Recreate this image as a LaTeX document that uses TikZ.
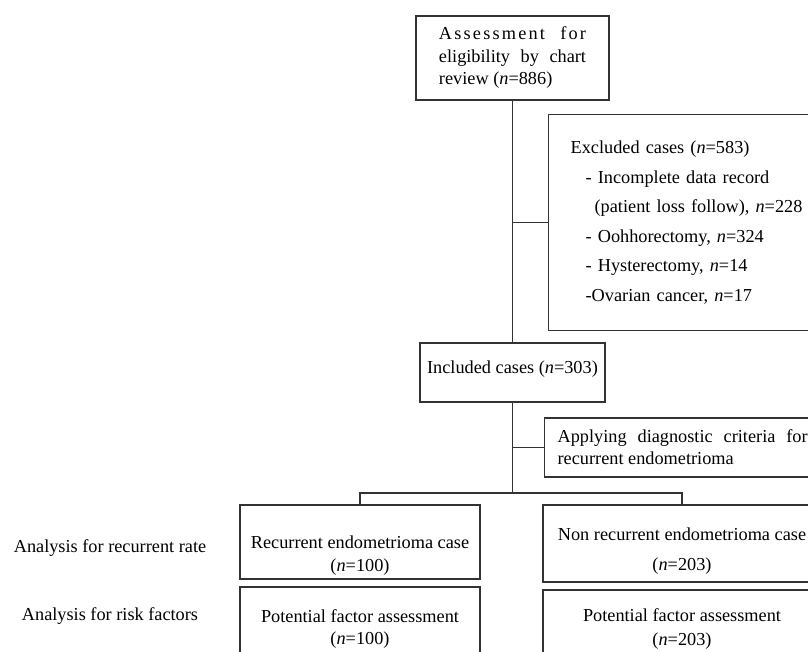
\documentclass[tikz,border=0pt]{standalone}
\usepackage{fontspec}
\setmainfont{Liberation Serif}
\newfontfamily\spacedfont[LetterSpace=12]{Liberation Serif}
\usetikzlibrary{calc}

\begin{document}
\begin{tikzpicture}[x=0.025cm,y=-0.025cm,font=\fontsize{13}{16}\selectfont,
    box/.style={draw=black!80,line width=0.9pt,rectangle,inner sep=0pt},
    link/.style={draw=black!80,line width=0.9pt}]
  \clip (0,0) rectangle (808,651);
  \node[box,minimum width=4.825cm,minimum height=2.1cm,text width=3.675cm,
    align=justify] (assess) at (512.5,58)
    {{\spacedfont Assessment for} eligibility by chart review (\textit{n}=886)};
  \node[box,anchor=north west,minimum width=7.05cm,minimum height=5.4cm,
    inner xsep=0.55cm,text width=5.95cm,align=left,
    font=\fontsize{13}{21}\selectfont] (excl) at (548,114)
    {Excluded cases (\textit{n}=583)\\
     \hspace*{0.375cm}- Incomplete data record\\
     \hspace*{0.6cm}(patient loss follow), \textit{n}=228\\
     \hspace*{0.375cm}- Oohhorectomy, \textit{n}=324\\
     \hspace*{0.375cm}- Hysterectomy, \textit{n}=14\\
     \hspace*{0.375cm}-Ovarian cancer, \textit{n}=17};
  \node[box,minimum width=4.625cm,minimum height=1.475cm,text depth=7.5pt]
    (incl) at (512.5,372.5) {Included cases (\textit{n}=303)};
  \node[box,anchor=west,minimum height=1.475cm,inner xsep=0.325cm,
    text width=6.25cm,align=justify,font=\fontsize{13}{15.6}\selectfont]
    (apply) at (544,447.5)
    {Applying diagnostic criteria for\linebreak recurrent endometrioma};
  \coordinate (split) at (512.5,493);
  \node[box,minimum width=6cm,minimum height=1.85cm,align=center,text height=44.5pt]
    (rec) at (360,542) {Recurrent endometrioma case\\(\textit{n}=100)};
  \node[box,minimum width=6.95cm,minimum height=1.925cm,align=center,text height=41.8pt]
    (nrec) at (682,543.5) {Non recurrent endometrioma case\\[6pt](\textit{n}=203)};
  \node[box,minimum width=6cm,minimum height=1.95cm,align=center,text height=28.8pt,
    font=\fontsize{13}{15.6}\selectfont] (pot1) at (360,626)
    {Potential factor assessment\\(\textit{n}=100)};
  \node[box,minimum width=6.95cm,minimum height=1.95cm,align=center,
    font=\fontsize{13}{16.4}\selectfont] (pot2) at (682,629)
    {Potential factor assessment\\(\textit{n}=203)};
  \node (rate) at (110,548) {Analysis for recurrent rate};
  \node (risk) at (110,616) {Analysis for risk factors};
  \draw[link] (assess) -- (incl);
  \draw[link] (assess.south |- excl.west) -- (excl.west);
  \draw[link] (incl) -- (split);
  \draw[link] (incl.south |- apply.west) -- (apply.west);
  \draw[link] (rec.north) |- (split) -| (nrec.north);
\end{tikzpicture}
\end{document}
